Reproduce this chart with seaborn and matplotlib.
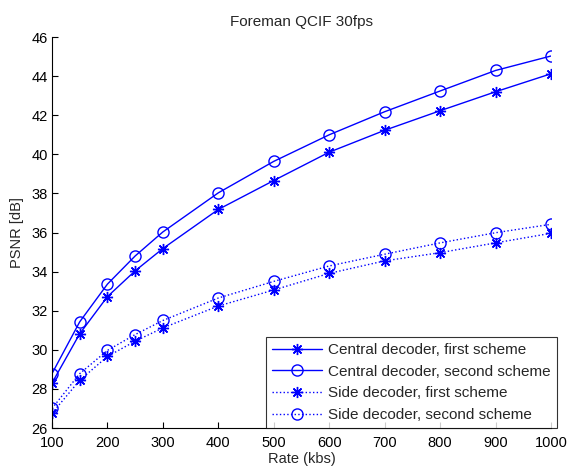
import pandas as pd
import matplotlib
matplotlib.use("Agg")
import matplotlib.pyplot as plt
import seaborn as sns

rate = [100, 150, 200, 250, 300, 400, 500, 600, 700, 800, 900, 1000]

central_first = [28.3, 30.82, 32.72, 34.04, 35.18, 37.18, 38.66, 40.11, 41.23, 42.23, 43.2, 44.12]
central_second = [28.78, 31.43, 33.36, 34.8, 36.03, 38.03, 39.64, 41.0, 42.18, 43.24, 44.29, 45.03]
side_first = [26.75, 28.44, 29.66, 30.44, 31.12, 32.24, 33.06, 33.91, 34.55, 34.97, 35.47, 35.96]
side_second = [27.0, 28.78, 29.97, 30.78, 31.5, 32.65, 33.5, 34.29, 34.89, 35.47, 35.99, 36.42]

etiquetas = ["Central decoder, first scheme", "Central decoder, second scheme",
             "Side decoder, first scheme", "Side decoder, second scheme"]

sns.set_style("white")
plt.rcParams['font.family'] = ['Liberation Sans', 'DejaVu Sans']

fig = plt.figure(figsize=(5.68, 4.69), dpi=100)
ax = fig.add_axes([0.0915, 0.0874, 0.8785, 0.8336])

asterisco = (8, 2, 0)
series = [
    (central_first, '-', asterisco, 'b'),
    (central_second, '-', 'o', 'none'),
    (side_first, ':', asterisco, 'b'),
    (side_second, ':', 'o', 'none'),
]
for (valores, estilo, marca, relleno), nombre in zip(series, etiquetas):
    df = pd.DataFrame({'rate': rate, 'psnr': valores})
    sns.lineplot(data=df, x='rate', y='psnr', ax=ax, color='#0000ff', linestyle=estilo,
                 linewidth=1.0, marker=marca, markersize=8, markerfacecolor=relleno,
                 markeredgecolor='#0000ff', markeredgewidth=1.0, label=nombre)

ax.set_xlim(100, 1000)
ax.set_ylim(26, 46)
ax.set_xticks(range(100, 1001, 100))
ax.set_yticks(range(26, 47, 2))
ax.tick_params(direction='in', length=4, width=0.8, labelsize=10.5, colors='black',
               left=True, bottom=True)
ax.tick_params(axis='x', pad=6)
ax.tick_params(axis='y', pad=3)
for lado in ['top', 'right']:
    ax.spines[lado].set_visible(False)
for lado in ['left', 'bottom']:
    ax.spines[lado].set_color('black')
    ax.spines[lado].set_linewidth(0.8)

ax.set_title('Foreman QCIF 30fps', fontsize=11, pad=8)
ax.set_xlabel('Rate (kbs)', fontsize=10.5, labelpad=1)
ax.set_ylabel('PSNR [dB]', fontsize=10.5, labelpad=5)

leg = ax.legend(loc='lower right', fontsize=11, frameon=True, fancybox=False,
                edgecolor='black', borderpad=0.4, labelspacing=0.5,
                handlelength=3.3, handletextpad=0.4, borderaxespad=0.0,
                bbox_to_anchor=(1.012, 0.0))
leg.get_frame().set_linewidth(0.8)

fig.savefig('out.png', dpi=100)
